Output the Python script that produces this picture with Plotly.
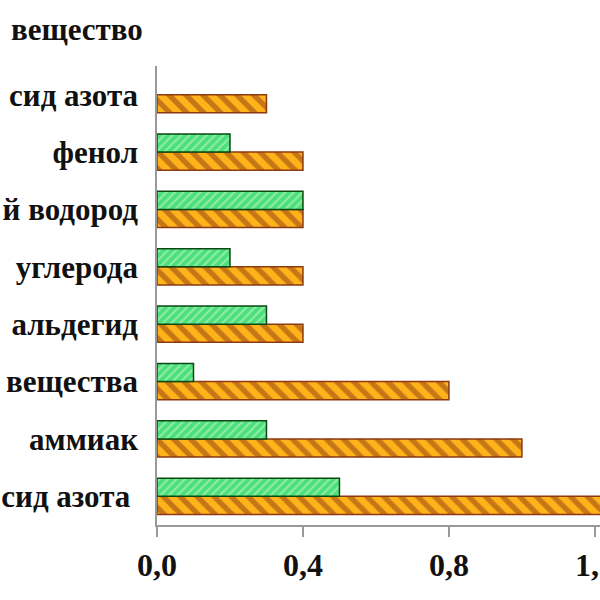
import plotly.graph_objects as go

# categories listed top to bottom (as visible, left part cropped in the reference)
categories = ["сид азота", "фенол", "й водород", "углерода", "альдегид", "вещества", "аммиак", "сид азота "]
orange_vals = [0.3, 0.4, 0.4, 0.4, 0.4, 0.8, 1.0, 1.3]
green_vals = [None, 0.2, 0.4, 0.2, 0.3, 0.1, 0.3, 0.5]
tick_vals = [0.0, 0.4, 0.8, 1.2]
tick_text = ["0,0", "0,4", "0,8", "1,2"]
title_text = "вещество"

cats_bt = categories[::-1]
orange_bt = orange_vals[::-1]
green_bt = green_vals[::-1]

font_family = "Liberation Serif, Times New Roman, serif"

fig = go.Figure()
fig.add_trace(go.Bar(
    y=cats_bt, x=orange_bt, orientation="h",
    marker=dict(color="#FFB21A", line=dict(color="#8B3A12", width=1.5),
                pattern=dict(shape="\\", bgcolor="#FFB21A", fgcolor="#8B3A12", size=12, solidity=0.45)),
    showlegend=False,
))
fig.add_trace(go.Bar(
    y=cats_bt, x=green_bt, orientation="h",
    marker=dict(color="#4BE07A", line=dict(color="#0B4A12", width=1.5),
                pattern=dict(shape="/", bgcolor="#4BE07A", fgcolor="#D8F8DE", size=6, solidity=0.35)),
    showlegend=False,
))

fig.update_layout(
    width=600, height=600,
    margin=dict(l=157, r=0, t=66, b=75),
    paper_bgcolor="white", plot_bgcolor="white",
    barmode="group", bargap=0.37, bargroupgap=0.0,
    font=dict(family=font_family, size=30, color="#111111"),
    annotations=[dict(text="<b>" + title_text + "</b>", x=0, xref="paper", y=1.0,
                      yref="paper", xanchor="left", yanchor="top",
                      xshift=-148, yshift=56, showarrow=False,
                      font=dict(family=font_family, size=31, color="#111111"))],
)
fig.update_xaxes(
    range=[0, 1.214], tickvals=tick_vals, ticktext=tick_text,
    showgrid=False, zeroline=False, showline=True, linecolor="#999999", linewidth=1.5,
    ticks="outside", ticklen=10, tickcolor="#999999", tickwidth=1.5,
    tickfont=dict(family=font_family, size=32, color="#111111", weight="bold"),
    ticklabeloverflow="allow", ticklabelstandoff=1,
    automargin=False,
)
fig.update_yaxes(
    showgrid=False, zeroline=False, showline=True, linecolor="#999999", linewidth=1.5,
    ticks="", ticklabelstandoff=11,
    tickfont=dict(family=font_family, size=31, color="#111111", weight="bold"),
    automargin=False,
)
fig.write_html("out.html")
